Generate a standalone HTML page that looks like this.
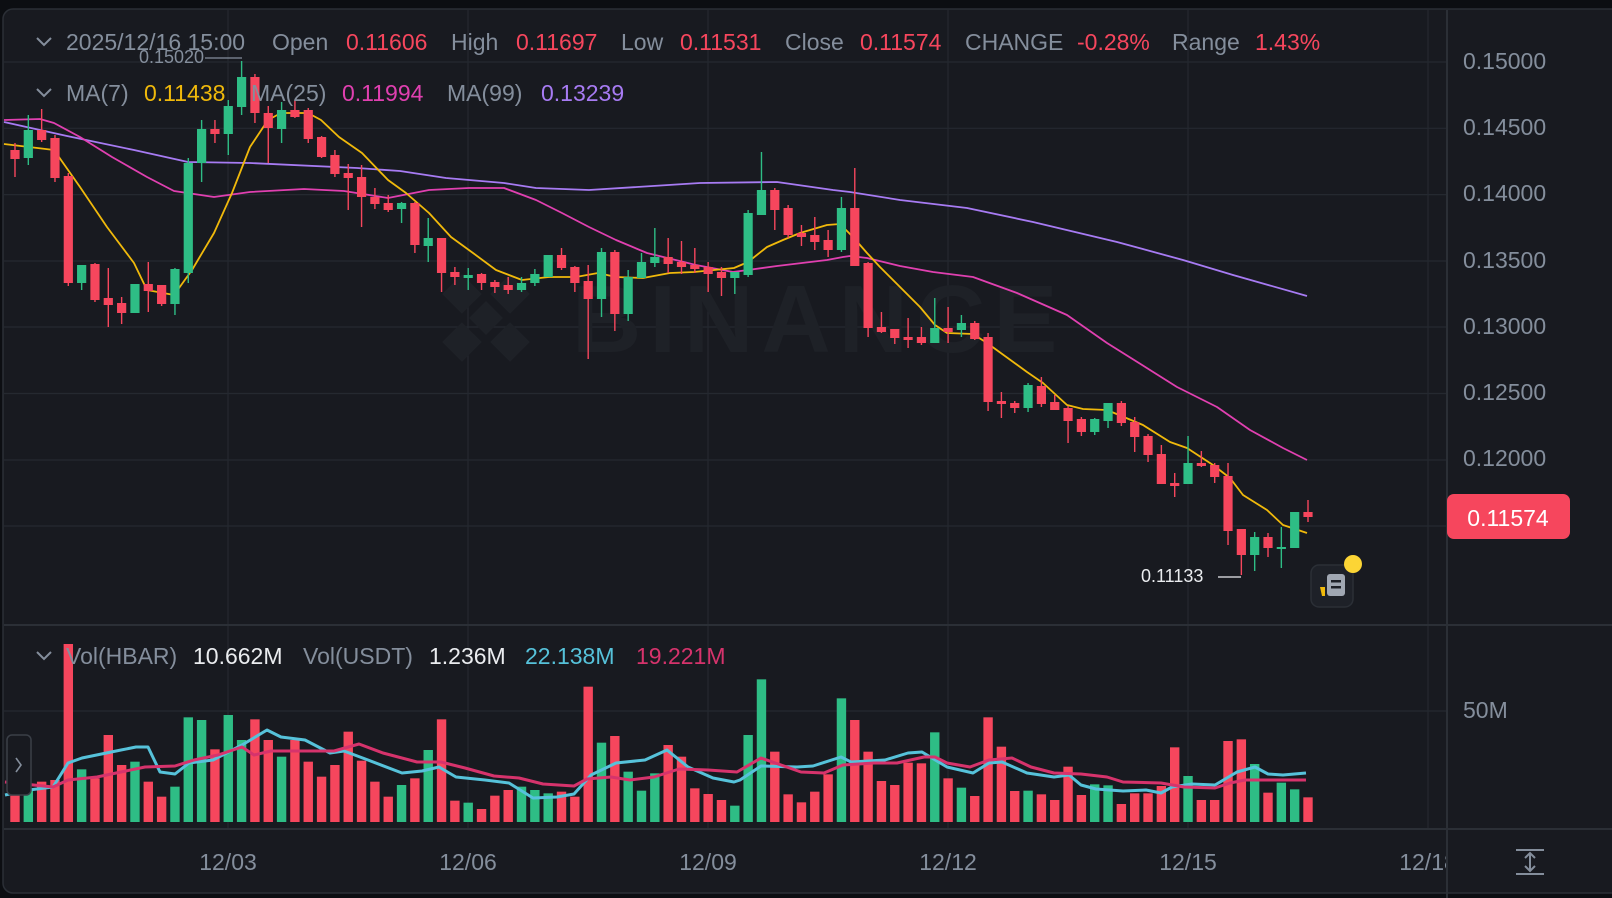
<!DOCTYPE html>
<html><head><meta charset="utf-8">
<style>
html,body{margin:0;padding:0;background:#0c0e12;}
svg{display:block;font-family:"Liberation Sans",sans-serif;}
</style></head>
<body>
<svg id="c" width="1612" height="898" viewBox="0 0 1612 898" xmlns="http://www.w3.org/2000/svg">
<defs><clipPath id="plot"><rect x="0" y="0" width="1446" height="898"/></clipPath></defs>
<rect x="0" y="0" width="1612" height="898" fill="#0c0e12"/>
<rect x="3" y="9" width="1640" height="884" rx="10" fill="#181a20" stroke="#2b2f36" stroke-width="1.5"/>
<g id="grid" stroke="#252930" stroke-width="1.2"></g>
<g fill="#1e2127">
<g transform="translate(486,318) rotate(45)">
<rect x="-14" y="-48" width="28" height="28"/><rect x="-48" y="-14" width="28" height="28"/><rect x="20" y="-14" width="28" height="28"/><rect x="-14" y="20" width="28" height="28"/><rect x="-12" y="-12" width="24" height="24"/>
</g>
<text x="572" y="352" font-size="96" font-weight="bold" letter-spacing="8">BINANCE</text>
</g>
<g id="vol"></g>
<g id="vma" fill="none" stroke-linejoin="round"></g>
<g id="ma" fill="none" stroke-linejoin="round"></g>
<g id="cdl"></g>
<g id="txt"></g>
</svg>
<script>
var NS="http://www.w3.org/2000/svg";
function el(p,t,a,txt){var e=document.createElementNS(NS,t);for(var k in a)e.setAttribute(k,a[k]);if(txt!=null)e.textContent=txt;document.getElementById(p).appendChild(e);return e;}
var R="#f6465d",G="#2ebd85",GR="#848e9c";
[62,128.3,194.6,261,327,393.5,460,526].forEach(function(y){el("grid","line",{x1:4,x2:1447,y1:y,y2:y});});
el("grid","line",{x1:4,x2:1447,y1:711,y2:711});
[228,468,708,948,1188,1428].forEach(function(x){el("grid","line",{x1:x,x2:x,y1:10,y2:829});});
el("grid","line",{x1:1447,x2:1447,y1:10,y2:898,stroke:"#2b2f36","stroke-width":2});
el("grid","line",{x1:4,x2:1612,y1:625,y2:625,stroke:"#2b2f36","stroke-width":2});
el("grid","line",{x1:4,x2:1612,y1:829,y2:829,stroke:"#2b2f36","stroke-width":2});
var C=[
"r 150 159 143 177","g 130 158 115 165","r 130 140 109 142","r 138 178 135 182","r 176 283 173 286","g 265 283 265 290","r 264 300 263 302","r 298 305 268 327","r 303 313 297 324","g 284 313 284 313",
"r 284 291 262 312","r 285 304 285 306","g 269 304 268 315","g 163 273 158 283","g 129 163 120 182","r 129 134 120 143","g 106 134 100 155","g 77 107 61 115","r 77 113 74 123","r 113 128 106 163",
"g 110 129 102 143","r 110 117 100 118","r 110 139 108 143","r 137 157 136 158","r 155 174 150 177","r 173 178 164 210","r 177 197 165 227","r 197 204 188 209","r 203 210 195 212","g 203 209 202 223",
"r 203 245 202 253","g 238 246 218 262","r 238 273 238 292","r 272 277 267 285","g 275 278 268 290","r 274 283 273 290","r 282 287 280 293","r 285 290 277 294","g 283 290 277 292","g 274 283 269 286",
"g 255 277 255 277","r 255 268 248 270","r 267 283 266 292","r 281 299 265 359","g 252 299 248 317","r 252 314 250 331","g 277 314 270 321","g 262 278 253 278","g 257 263 228 267","r 257 264 238 273",
"r 262 267 241 274","r 265 269 248 273","r 267 274 262 292","r 272 278 267 296","g 272 278 272 294","g 213 275 210 277","g 190 215 152 215","r 190 210 188 230","r 208 235 205 238","r 233 237 225 246",
"r 235 242 217 250","r 240 250 230 257","g 208 250 197 252","r 208 266 168 266","r 263 328 262 337","r 327 332 312 333","r 329 338 329 344","r 337 340 318 348","r 337 343 327 345","g 328 343 298 343",
"r 328 332 307 343","g 323 330 315 337","r 323 339 321 340","r 337 402 333 411","r 401 404 392 418","r 403 408 401 413","g 385 408 383 412","r 386 404 377 407","r 402 410 395 410","r 408 421 406 443",
"r 419 432 417 436","g 419 432 418 435","g 403 421 403 428","r 403 423 401 426","r 422 437 417 452","r 436 455 434 462","r 454 484 445 484","r 483 486 473 497","g 463 484 436 484","r 463 466 451 467",
"r 465 477 463 483","r 476 531 463 545","r 529 555 529 575","g 537 555 532 571","r 537 548 533 557","g 547 549 527 568","g 512 548 512 548","r 512 517 500 522"];
var VZ=[460,480,455,450,42,418,445,315,405,395,455,500,470,262,270,358,255,330,268,330,380,330,395,440,405,305,392,455,500,465,445,360,268,512,518,537,497,480,470,480,490,485,500,170,338,318,425,482,430,345,380,475,492,510,527,315,148,365,493,517,485,433,205,270,365,453,465,398,400,307,445,473,498,262,350,483,482,493,510,410,495,463,466,522,490,490,468,352,438,510,510,333,328,402,488,458,478,502];
var N=C.length;
C.forEach(function(s,i){var a=s.split(" "),col=a[0]=="r"?R:G,x=1308-(N-1-i)*13.33;
var bt=+a[1],bb=+a[2],wt=+a[3],wb=+a[4];
el("cdl","rect",{x:x-0.7,y:wt,width:1.4,height:Math.max(1,wb-wt),fill:col});
el("cdl","rect",{x:x-4.6,y:bt,width:9.2,height:Math.max(1.5,bb-bt),fill:col});
var vt=630+(VZ[i]||500)/3;
el("vol","rect",{x:x-4.7,y:vt,width:9.4,height:822-vt,fill:col});
});
function pl(g,pts,col,w){el(g,"polyline",{points:pts,stroke:col,"stroke-width":w,fill:"none"});}
pl("vma","5,795 29,790 53,787 68,763 82,758 121,750 136,747 148,747 160,772 175,774 189,763 213,760 242,745 267,730 281,737 305,740 330,753 344,751 368,760 402,773 422,771 439,767 456,777 485,780 509,783 533,798 557,797 574,794 591,775 616,763 645,760 667,750 688,767 713,778 734,782 740,780 761,766 797,767 813,766 841,757 851,762 885,760 908,753 922,752 947,767 973,773 989,763 1002,762 1027,773 1054,777 1069,775 1081,785 1096,789 1123,791 1146,790 1161,793 1172,787 1192,784 1215,785 1237,772 1255,767 1268,774 1283,775 1306,773","#56c2da",3);
pl("vma","5,782 53,787 68,780 97,777 121,772 145,767 175,766 194,760 218,755 242,747 254,755 271,751 310,751 334,751 359,744 383,753 417,762 441,762 465,768 494,776 519,778 543,784 574,786 587,779 611,777 630,780 654,777 679,769 708,770 737,772 761,758 801,772 824,773 843,765 874,763 897,763 924,757 935,757 947,763 970,767 989,760 1012,758 1031,767 1054,773 1081,774 1107,777 1123,782 1161,783 1184,787 1215,788 1230,783 1245,780 1276,780 1306,780","#d6336c",3);
pl("ma","4,122 67,136 134,150 188,162 250,163 357,168 400,171 446,178 504,183 536,188 589,190 700,183 777,182 833,190 850,192 900,200 967,208 1033,222 1117,242 1183,260 1233,275 1307,296","#a77bf3",1.8);
pl("ma","4,120 40,119 54,123 80,137 112,157 147,177 174,191 214,197 250,192 304,189 344,191 388,198 429,190 469,188 504,188 536,200 562,213 589,227 616,240 647,253 696,265 733,272 777,266 827,260 843,257 850,256 867,258 900,266 933,272 973,277 1017,293 1067,315 1107,343 1150,370 1177,387 1217,407 1250,430 1283,448 1307,460","#e040b0",1.8);
pl("ma","4,144 54,150 80,187 107,227 134,263 147,290 174,295 192,270 214,233 232,193 250,147 268,120 281,113 308,113 321,120 339,137 362,153 388,180 406,193 429,213 451,237 473,253 496,270 522,280 549,277 576,277 598,273 616,277 643,278 670,273 694,272 734,268 748,262 767,247 783,240 800,233 827,225 840,224 853,237 867,253 880,267 900,287 920,307 935,325 947,333 973,334 987,343 1027,372 1043,383 1067,405 1083,409 1107,410 1143,425 1170,442 1187,448 1213,465 1230,478 1243,495 1267,510 1283,525 1307,533","#f0b90b",1.8);
function t(x,y,s,c,fs,anchor){return el("txt","text",{x:x,y:y,fill:c,"font-size":fs||23,"dominant-baseline":"central","text-anchor":anchor||"start"},s);}
function chev(x,y){el("txt","polyline",{points:(x-7)+","+(y-4)+" "+x+","+(y+3)+" "+(x+7)+","+(y-4),fill:"none",stroke:GR,"stroke-width":2});}
chev(44,42);chev(44,93);chev(44,656);
t(66,42,"2025/12/16 15:00",GR);t(272,42,"Open",GR);t(346,42,"0.11606",R);t(451,42,"High",GR);t(516,42,"0.11697",R);
t(621,42,"Low",GR);t(680,42,"0.11531",R);t(785,42,"Close",GR);t(860,42,"0.11574",R);t(965,42,"CHANGE",GR);t(1077,42,"-0.28%",R);t(1172,42,"Range",GR);t(1255,42,"1.43%",R);
t(139,57,"0.15020",GR,18);el("txt","line",{x1:205,x2:242,y1:58,y2:58,stroke:GR,"stroke-width":1.3});
t(66,93,"MA(7)",GR);t(144,93,"0.11438","#f0b90b");t(251,93,"MA(25)",GR);t(342,93,"0.11994","#e040b0");t(447,93,"MA(99)",GR);t(541,93,"0.13239","#a77bf3");
t(1141,576,"0.11133","#eaecef",18);el("txt","line",{x1:1218,x2:1241,y1:577,y2:577,stroke:"#eaecef","stroke-width":1.3});
t(66,656,"Vol(HBAR)",GR);t(193,656,"10.662M","#eaecef");t(303,656,"Vol(USDT)",GR);t(429,656,"1.236M","#eaecef");t(525,656,"22.138M","#56c2da");t(636,656,"19.221M","#d6336c");
[["0.15000",61],["0.14500",127],["0.14000",193],["0.13500",260],["0.13000",326],["0.12500",392],["0.12000",458]].forEach(function(p){t(1463,p[1],p[0],GR);});
el("txt","rect",{x:1447,y:494,width:123,height:45,rx:7,fill:R});
t(1508,518,"0.11574","#ffffff",23,"middle");
t(1463,710,"50M",GR);
var g=el("txt","g",{"clip-path":"url(#plot)"});
[["12/03",228],["12/06",468],["12/09",708],["12/12",948],["12/15",1188],["12/18",1428]].forEach(function(d){var e=t(d[1],862,d[0],GR,23,"middle");g.appendChild(e);});
el("txt","rect",{x:7,y:735,width:24,height:60,rx:5,fill:"#181a20",stroke:"#3a3f47","stroke-width":1.5});
el("txt","polyline",{points:"16,758 21,765 16,772",fill:"none",stroke:GR,"stroke-width":1.6});
el("txt","line",{x1:1516,x2:1544,y1:850,y2:850,stroke:GR,"stroke-width":2});
el("txt","line",{x1:1516,x2:1544,y1:874,y2:874,stroke:GR,"stroke-width":2});
el("txt","line",{x1:1530,x2:1530,y1:853,y2:871,stroke:GR,"stroke-width":2});
el("txt","polyline",{points:"1525,858 1530,853 1535,858",fill:"none",stroke:GR,"stroke-width":2});
el("txt","polyline",{points:"1525,866 1530,871 1535,866",fill:"none",stroke:GR,"stroke-width":2});
el("txt","rect",{x:1311,y:565,width:42,height:42,rx:8,fill:"#1e2128",stroke:"#2b2f36","stroke-width":1.5});
el("txt","rect",{x:1327,y:574,width:18,height:22,rx:3,fill:"#a0a7b2"});
el("txt","rect",{x:1331,y:580,width:10,height:2.5,fill:"#1e2128"});
el("txt","rect",{x:1331,y:586,width:10,height:2.5,fill:"#1e2128"});
el("txt","polygon",{points:"1320,587 1325,587 1325,596 1322,596",fill:"#f0b90b"});
el("txt","circle",{cx:1353,cy:564,r:9,fill:"#fcd535"});
</script>
</body></html>
